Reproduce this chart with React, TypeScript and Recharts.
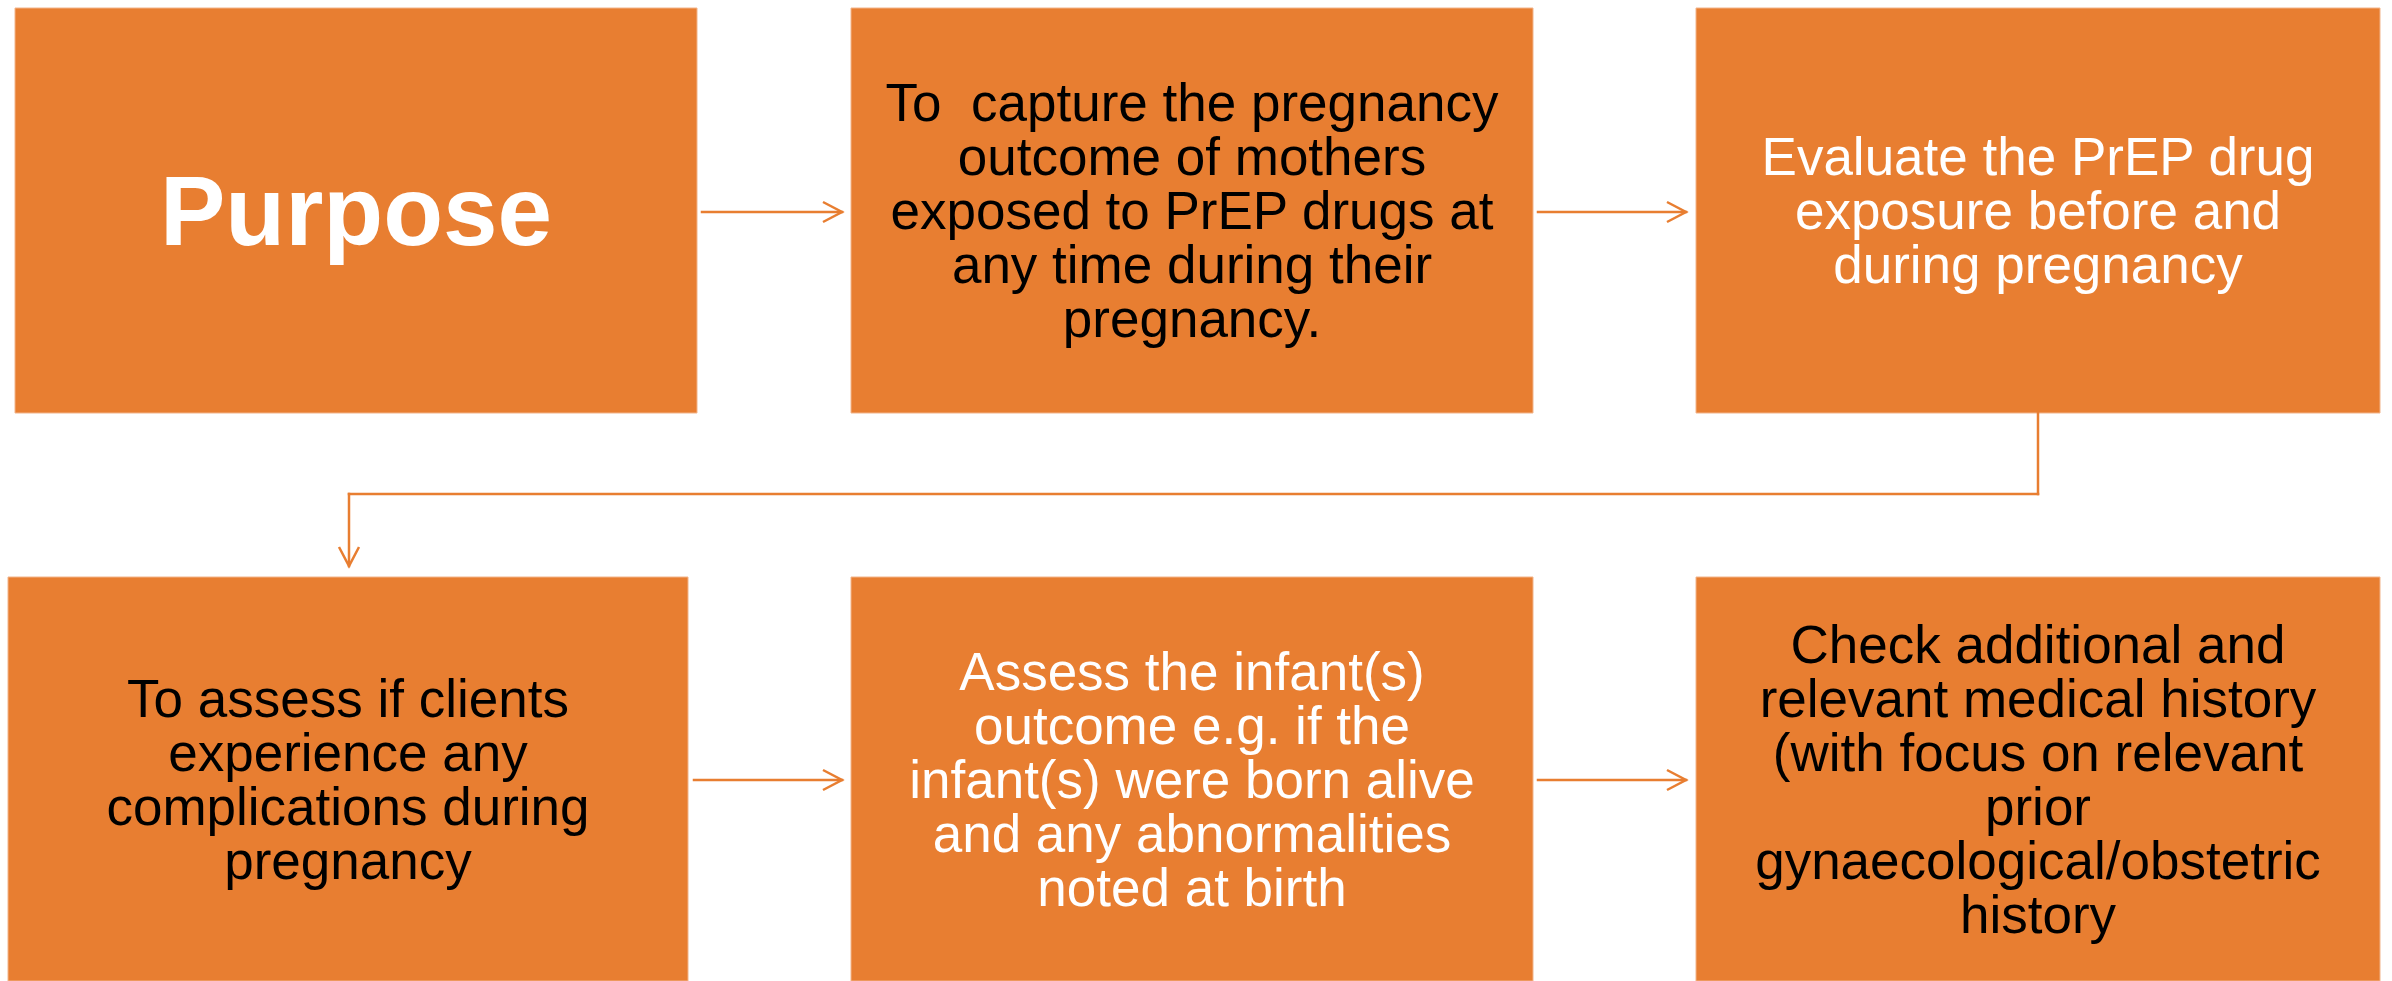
import React from 'react';
import { ComposedChart, XAxis, YAxis, ReferenceArea, ReferenceLine } from 'recharts';

const W = 2392;
const H = 981;
const ORANGE = '#E87E31';

// Flowchart boxes (diagram coordinates)
const boxX1 = [15, 851, 1696, 8, 851, 1696];
const boxX2 = [697, 1533, 2380, 688, 1533, 2380];
const boxY1 = [8, 8, 8, 577, 577, 577];
const boxY2 = [413, 413, 413, 981, 981, 981];
const boxText: string[][] = [
  ['Purpose'],
  ['To  capture the pregnancy', 'outcome of mothers', 'exposed to PrEP drugs at', 'any time during their', 'pregnancy.'],
  ['Evaluate the PrEP drug', 'exposure before and', 'during pregnancy'],
  ['To assess if clients', 'experience any', 'complications during', 'pregnancy'],
  ['Assess the infant(s)', 'outcome e.g. if the', 'infant(s) were born alive', 'and any abnormalities', 'noted at birth'],
  ['Check additional and', 'relevant medical history', '(with focus on relevant', 'prior', 'gynaecological/obstetric', 'history'],
];
const boxTextColor = ['#FFFFFF', '#000000', '#FFFFFF', '#000000', '#FFFFFF', '#000000'];
const boxFontSize = [98, 53, 53, 53, 53, 53];
const boxBold = [true, false, false, false, false, false];

// Connector segments: [x1, y1, x2, y2, hasArrowHead]
const segX1 = [702, 1538, 694, 1538, 2038, 2038, 349];
const segY1 = [212, 212, 780, 780, 413, 494, 494];
const segX2 = [842, 1686, 842, 1686, 2038, 349, 349];
const segY2 = [212, 212, 780, 780, 494, 494, 566];
const segArrow = [true, true, true, true, false, false, true];

const LINE_H = 54;

function makeLabel(i: number) {
  return (props: any) => {
    const vb = props.viewBox || {};
    const cx = vb.x + vb.width / 2;
    const cy = vb.y + vb.height / 2;
    const lines = boxText[i];
    const n = lines.length;
    return (
      <text
        x={cx}
        textAnchor="middle"
        fill={boxTextColor[i]}
        fontSize={boxFontSize[i]}
        fontWeight={boxBold[i] ? 700 : 400}
        fontFamily="'Liberation Sans', Arial, Helvetica, sans-serif"
        style={{ whiteSpace: 'pre' }}
      >
        {lines.map((ln, k) => (
          <tspan
            key={k}
            x={cx}
            y={cy + (k - (n - 1) / 2) * LINE_H}
            dominantBaseline="central"
          >
            {ln}
          </tspan>
        ))}
      </text>
    );
  };
}

function makeArrowShape(withHead: boolean) {
  return (p: any) => {
    const { x1, y1, x2, y2 } = p;
    const dx = x2 - x1;
    const dy = y2 - y1;
    const len = Math.sqrt(dx * dx + dy * dy) || 1;
    const ux = dx / len;
    const uy = dy / len;
    const hl = 19;
    const hw = 10;
    const bx = x2 - ux * hl;
    const by = y2 - uy * hl;
    const px = -uy;
    const py = ux;
    return (
      <g>
        <line x1={x1} y1={y1} x2={x2} y2={y2} stroke={ORANGE} strokeWidth={2.5} strokeLinecap="square" />
        {withHead && (
          <polyline
            points={`${bx + px * hw},${by + py * hw} ${x2},${y2} ${bx - px * hw},${by - py * hw}`}
            fill="none"
            stroke={ORANGE}
            strokeWidth={2.5}
          />
        )}
      </g>
    );
  };
}

const dummy = [{ x: 0, y: 0 }];

export default function App() {
  return (
    <div style={{ position: 'absolute', left: 0, top: 0, width: W, height: H, background: '#FFFFFF' }}>
      <ComposedChart width={W} height={H} data={dummy} margin={{ top: 0, right: 0, bottom: 0, left: 0 }}>
        <XAxis type="number" dataKey="x" domain={[0, W]} allowDataOverflow hide />
        <YAxis type="number" dataKey="y" domain={[0, H]} allowDataOverflow reversed hide />
        {boxX1.map((_, i) => (
          <ReferenceArea
            key={'b' + i}
            x1={boxX1[i]}
            x2={boxX2[i]}
            y1={boxY1[i]}
            y2={boxY2[i]}
            fill={ORANGE}
            fillOpacity={1}
            stroke="#F2B48A"
            strokeWidth={1}
            ifOverflow="visible"
            label={makeLabel(i)}
          />
        ))}
        {segX1.map((_, i) => (
          <ReferenceLine
            key={'s' + i}
            segment={[
              { x: segX1[i], y: segY1[i] },
              { x: segX2[i], y: segY2[i] },
            ]}
            ifOverflow="visible"
            shape={makeArrowShape(segArrow[i])}
          />
        ))}
      </ComposedChart>
    </div>
  );
}
